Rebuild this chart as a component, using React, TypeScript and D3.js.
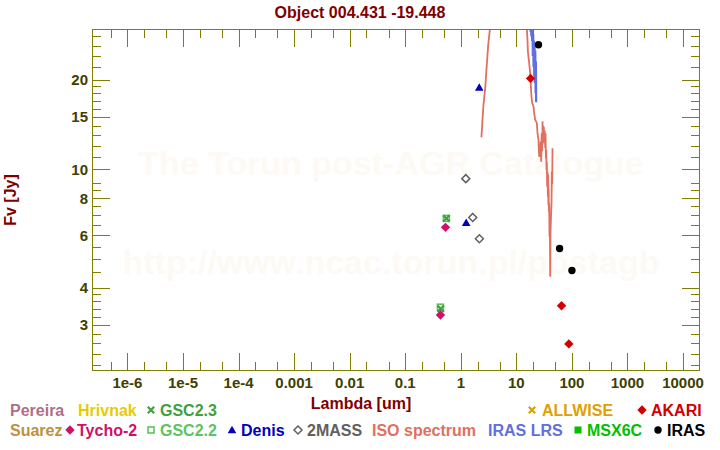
import React from "react";
import * as d3 from "d3";

const W = 720;
const H = 450;
const PLOT = { left: 92, right: 700, top: 29, bottom: 371 };

const TITLE = "Object 004.431 -19.448";
const X_TITLE = "Lambda [um]";
const Y_TITLE = "Fv [Jy]";
const X_DOMAIN = [2.3e-7, 2.02e4];
const Y_DOMAIN = [2.1, 29.6];

const xTickValues = [1e-6, 1e-5, 1e-4, 1e-3, 1e-2, 1e-1, 1, 10, 100, 1000, 10000];
const xTickLabels = ["1e-6", "1e-5", "1e-4", "0.001", "0.01", "0.1", "1", "10", "100", "1000", "10000"];
const yTickValues = [3, 4, 6, 8, 10, 15, 20];
const yTickLabels = ["3", "4", "6", "8", "10", "15", "20"];
const yMinorTicks = [2.2, 2.4, 2.6, 2.8, 3.2, 3.4, 3.6, 3.8, 4.5, 5, 5.5, 6.5, 7, 7.5, 8.5, 9, 11, 12, 13, 14, 16, 17, 18, 19, 22, 24, 26, 28];

// ISO SWS spectrum
const isoWave = [2.35, 2.4, 2.45, 2.5, 2.55, 2.65, 2.77, 2.86, 2.98, 3.1, 3.28, 3.45, 3.8, 4.5, 6, 8, 10, 12, 14, 15.0,
  15.46, 15.85, 16.11, 17.0, 17.73, 18.25, 18.71, 19.27, 20.33, 20.93, 21.82, 23.41, 24.0,
  25.0, 25.4, 25.75, 26.2, 26.85, 27.3, 27.99, 28.5, 29.17, 29.6, 30.03, 30.4, 30.79, 31.2, 31.7, 32.3, 33.04, 33.5,
  34.0, 34.5, 34.86, 35.3, 35.89, 36.4, 36.95, 37.4, 37.7, 38.1, 38.52, 39.0, 39.49, 40.1, 40.64, 41.2, 41.84, 42.9,
  43.5, 44.16, 44.72];
const isoFlux = [12.8, 13.6, 14.6, 15.4, 16.3, 17.6, 19.0, 21.0, 23.3, 25.9, 28.7, 31, 36, 48, 75, 120, 160, 140, 60, 33,
  29.6, 27.25, 24.9, 22.75, 21.05, 18.97, 17.56, 16.68, 16.25, 15.44, 14.66, 14.29, 13.22,
  12.55, 11.6, 11.03, 12.0, 11.0, 12.4, 10.6, 13.2, 11.5, 14.5, 12.2, 14.0, 12.3, 13.9, 12.6, 13.5, 11.8, 13.2,
  10.9, 11.6, 9.95, 10.6, 8.74, 9.8, 8.09, 9.6, 7.6, 8.6, 7.2, 7.7, 5.93, 6.4, 4.35, 6.2, 6.75, 7.68,
  9.8, 8.9, 11.77];

// IRAS LRS spectrum
const lrsWave = [8, 9, 10, 11, 12, 13, 14, 15, 16, 17, 17.8, 18.0, 18.3, 18.6, 18.9, 19.2, 19.5, 19.8, 20.1, 20.4, 20.7, 21.0, 21.3, 21.6, 21.9, 22.2, 22.5, 22.7];
const lrsFlux = [140, 190, 230, 210, 180, 150, 110, 75, 50, 36, 34, 29, 33, 28, 31, 27, 30, 24, 28.5, 22, 27, 20.5, 26, 19.5, 25, 18, 23, 16.8];

const tychoWave = [0.43, 0.53];
const tychoFlux = [3.24, 6.38];
const gsc22Wave = [0.43, 0.55];
const gsc22Flux = [3.44, 6.84];
const gsc23Wave = [0.435, 0.55];
const gsc23Flux = [3.40, 6.84];
const denisWave = [1.25, 2.15];
const denisFlux = [6.61, 18.8];
const tmassWave = [1.23, 1.64, 2.16];
const tmassFlux = [9.3, 6.89, 5.84];
const irasWave = [25, 60, 100];
const irasFlux = [26.2, 5.42, 4.57];
const akariWave = [18, 65, 88];
const akariFlux = [20.2, 3.48, 2.59];

const C = {
  frame: "#808000",
  tick: "#404000",
  title: "#800000",
  pereira: "#b06f86",
  hrivnak: "#e6cc00",
  gsc23: "#3fa03f",
  allwise: "#e0a000",
  akari: "#d40000",
  suarez: "#c0903f",
  tycho: "#d0106a",
  gsc22: "#5fc35f",
  denis: "#0000c0",
  tmass: "#606060",
  iso: "#e07060",
  lrs: "#5f6fdf",
  msx: "#00c000",
  iras: "#000000",
  watermark: "#fdfaf5",
};

const FONT = "'Liberation Sans', Arial, Helvetica, sans-serif";

function Marker({ kind, cx, cy, color }: { kind: string; cx: number; cy: number; color: string }) {
  const t = `translate(${cx},${cy})`;
  if (kind === "diamond") return <path transform={t} d="M0,-4.7L4.7,0L0,4.7L-4.7,0Z" fill={color} />;
  if (kind === "odiamond") return <path transform={t} d="M0,-4L4,0L0,4L-4,0Z" fill="none" stroke={color} strokeWidth={1.5} />;
  if (kind === "triangle") return <path transform={t} d="M0,-4.3L4.3,3.2L-4.3,3.2Z" fill={color} />;
  if (kind === "circle") return <circle cx={cx} cy={cy} r={3.7} fill={color} />;
  if (kind === "square") return <rect x={cx - 3.5} y={cy - 3.5} width={7} height={7} fill={color} />;
  if (kind === "osquare") return <rect x={cx - 3} y={cy - 3} width={6} height={6} fill="none" stroke={color} strokeWidth={1.6} />;
  if (kind === "x") return <path transform={t} d="M-3.2,-3.2L3.2,3.2M-3.2,3.2L3.2,-3.2" stroke={color} strokeWidth={2.2} fill="none" />;
  return null;
}

export default function App() {
  const x = d3.scaleLog().domain(X_DOMAIN).range([PLOT.left, PLOT.right]);
  const y = d3.scaleLog().domain(Y_DOMAIN).range([PLOT.bottom, PLOT.top]);

  const xMinor = [1e-7, ...xTickValues]
    .flatMap((v) => [2 * v, 5 * v])
    .filter((v) => x(v) > PLOT.left + 1 && x(v) < PLOT.right - 1);

  const line = d3.line<[number, number]>().x((d) => x(d[0])).y((d) => y(d[1]));
  const isoPath = line(isoWave.map((w, i) => [w, isoFlux[i]] as [number, number])) || "";
  const lrsPath = line(lrsWave.map((w, i) => [w, lrsFlux[i]] as [number, number])) || "";

  const pts = (ws: number[], fs: number[], kind: string, color: string, key: string) =>
    ws.map((w, i) => <Marker key={key + i} kind={kind} cx={x(w)} cy={y(fs[i])} color={color} />);

  const L = PLOT.left, R = PLOT.right, T = PLOT.top, B = PLOT.bottom;
  const MAJ = 18, MIN = 9;

  const legendText = (tx: number, ty: number, s: string, color: string) => (
    <text x={tx} y={ty} fill={color} fontSize={16} fontWeight="bold" fontFamily={FONT}>{s}</text>
  );

  return (
    <svg width={W} height={H} style={{ position: "absolute", left: 0, top: 0, background: "#fff" }}>
      <defs>
        <clipPath id="plotclip">
          <rect x={L} y={T} width={R - L} height={B - T} />
        </clipPath>
      </defs>
      <rect x={0} y={0} width={W} height={H} fill="#fff" />

      {/* watermark */}
      <text x={391} y={175} textAnchor="middle" fontSize={34} fontWeight="bold" fontFamily={FONT} fill={C.watermark}>The Torun post-AGR Catalogue</text>
      <text x={391} y={274} textAnchor="middle" fontSize={34} fontWeight="bold" fontFamily={FONT} fill={C.watermark}>http://www.ncac.torun.pl/postagb</text>

      {/* title */}
      <text x={360} y={18} textAnchor="middle" fontSize={16} fontWeight="bold" fontFamily={FONT} fill={C.title}>{TITLE}</text>

      {/* spectra */}
      <g clipPath="url(#plotclip)">
        <path d={isoPath} fill="none" stroke={C.iso} strokeWidth={1.8} strokeLinejoin="miter" />
        <path d={lrsPath} fill="none" stroke={C.lrs} strokeWidth={2.2} />
      </g>

      {/* frame */}
      <rect x={L + 0.5} y={T + 0.5} width={R - L - 1} height={B - T - 1} fill="none" stroke={C.frame} strokeWidth={1} />

      {/* x ticks */}
      {xTickValues.map((v, i) => {
        const px = Math.round(x(v)) + 0.5;
        return (
          <g key={"xt" + i}>
            <line x1={px} x2={px} y1={B} y2={B - MAJ} stroke={C.frame} />
            <line x1={px} x2={px} y1={T} y2={T + MAJ} stroke={C.frame} />
            <text x={x(v)} y={388} textAnchor="middle" fontSize={15} fontWeight="bold" fontFamily={FONT} fill={C.tick}>{xTickLabels[i]}</text>
          </g>
        );
      })}
      {xMinor.map((v, i) => {
        const px = Math.round(x(v)) + 0.5;
        return (
          <g key={"xm" + i}>
            <line x1={px} x2={px} y1={B} y2={B - MIN} stroke={C.frame} />
            <line x1={px} x2={px} y1={T} y2={T + MIN} stroke={C.frame} />
          </g>
        );
      })}

      {/* y ticks */}
      {yTickValues.map((v, i) => {
        const py = Math.round(y(v)) + 0.5;
        return (
          <g key={"yt" + i}>
            <line x1={L} x2={L + MAJ} y1={py} y2={py} stroke={C.frame} />
            <line x1={R} x2={R - MAJ} y1={py} y2={py} stroke={C.frame} />
            <text x={88} y={y(v) + 5.5} textAnchor="end" fontSize={15} fontWeight="bold" fontFamily={FONT} fill={C.tick}>{yTickLabels[i]}</text>
          </g>
        );
      })}
      {yMinorTicks.map((v, i) => {
        const py = Math.round(y(v)) + 0.5;
        return (
          <g key={"ym" + i}>
            <line x1={L} x2={L + MIN} y1={py} y2={py} stroke={C.frame} />
            <line x1={R} x2={R - MIN} y1={py} y2={py} stroke={C.frame} />
          </g>
        );
      })}

      {/* points */}
      <g clipPath="url(#plotclip)">
        {pts(gsc22Wave, gsc22Flux, "osquare", C.gsc22, "g22")}
        {pts(gsc23Wave, gsc23Flux, "x", C.gsc23, "g23")}
        {pts(tychoWave, tychoFlux, "diamond", C.tycho, "ty")}
        {pts(denisWave, denisFlux, "triangle", C.denis, "de")}
        {pts(tmassWave, tmassFlux, "odiamond", C.tmass, "tm")}
        {pts(irasWave, irasFlux, "circle", C.iras, "ir")}
        {pts(akariWave, akariFlux, "diamond", C.akari, "ak")}
      </g>

      {/* axis titles */}
      <text transform={`translate(16,${(T + B) / 2}) rotate(-90)`} textAnchor="middle" fontSize={16} fontWeight="bold" fontFamily={FONT} fill={C.title}>{Y_TITLE}</text>
      <text x={361} y={409} textAnchor="middle" fontSize={16} fontWeight="bold" fontFamily={FONT} fill={C.title}>{X_TITLE}</text>

      {/* legend row 1 */}
      {legendText(10, 416, "Pereira", C.pereira)}
      {legendText(78, 416, "Hrivnak", C.hrivnak)}
      <Marker kind="x" cx={151} cy={410} color={C.gsc23} />
      {legendText(160, 416, "GSC2.3", C.gsc23)}
      <Marker kind="x" cx={532} cy={410} color={C.allwise} />
      {legendText(542, 416, "ALLWISE", C.allwise)}
      <Marker kind="diamond" cx={642} cy={410} color={C.akari} />
      {legendText(651, 416, "AKARI", C.akari)}

      {/* legend row 2 */}
      {legendText(10, 436, "Suarez", C.suarez)}
      <Marker kind="diamond" cx={70} cy={430} color={C.tycho} />
      {legendText(77, 436, "Tycho-2", C.tycho)}
      <Marker kind="osquare" cx={151} cy={430} color={C.gsc22} />
      {legendText(160, 436, "GSC2.2", C.gsc22)}
      <Marker kind="triangle" cx={232} cy={430} color={C.denis} />
      {legendText(241, 436, "Denis", C.denis)}
      <Marker kind="odiamond" cx={298} cy={430} color={C.tmass} />
      {legendText(307, 436, "2MASS", C.tmass)}
      {legendText(372, 436, "ISO spectrum", C.iso)}
      {legendText(488, 436, "IRAS LRS", C.lrs)}
      <Marker kind="square" cx={578} cy={430} color={C.msx} />
      {legendText(587, 436, "MSX6C", C.msx)}
      <Marker kind="circle" cx={658} cy={430} color={C.iras} />
      {legendText(667, 436, "IRAS", C.iras)}
    </svg>
  );
}
